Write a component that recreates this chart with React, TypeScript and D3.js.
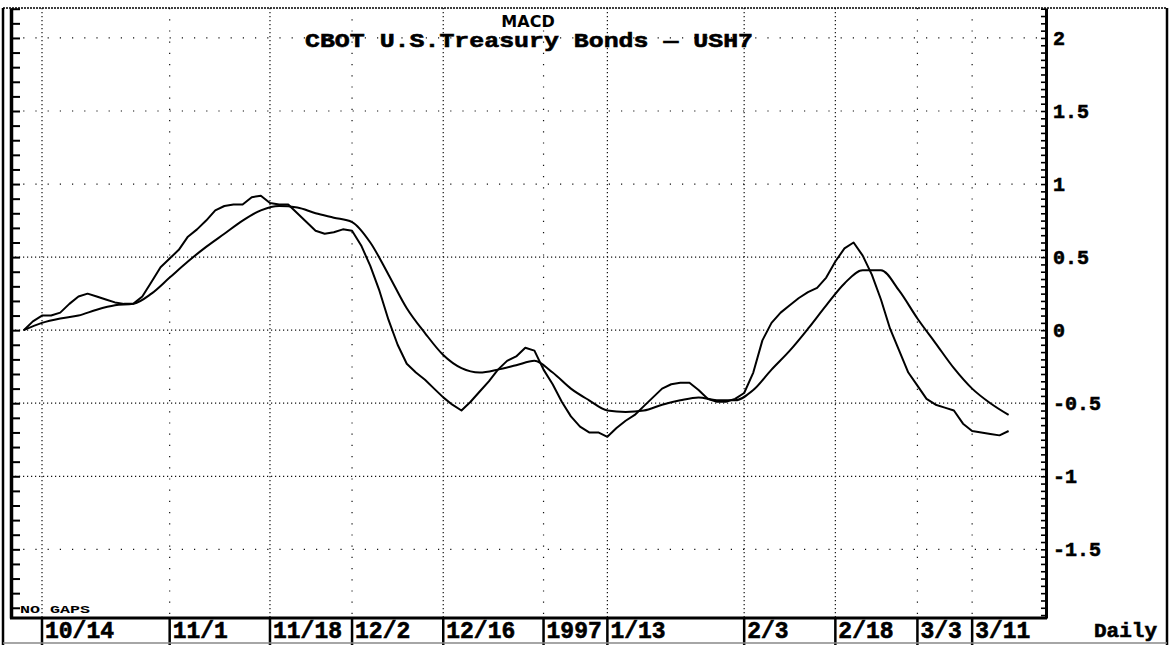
import React, { useRef, useEffect } from 'react';
import * as d3 from 'd3';

const W = 1171;
const H = 645;

// date strip under the plot: label + trading session index (session 0 = 10/10/96)
const dateLabels = ['10/14', '11/1', '11/18', '12/2', '12/16', '1997', '1/13', '2/3', '2/18', '3/3', '3/11'];
const dateSessions = [2, 16, 27, 36, 46, 57, 64, 79, 89, 98, 104];

const yTicks = [2, 1.5, 1, 0.5, 0, -0.5, -1, -1.5];

// MACD line, one value per session
const macd = [
  0.00, 0.06, 0.10, 0.10, 0.12, 0.18, 0.23, 0.25, 0.23, 0.21,
  0.19, 0.18, 0.18, 0.23, 0.33, 0.43, 0.49, 0.55, 0.64, 0.69,
  0.75, 0.82, 0.85, 0.86, 0.86, 0.91, 0.92, 0.87, 0.86, 0.86,
  0.80, 0.74, 0.68, 0.66, 0.67, 0.69, 0.68, 0.58, 0.44, 0.27,
  0.07, -0.10, -0.23, -0.29, -0.34, -0.40, -0.46, -0.51, -0.55, -0.49,
  -0.42, -0.35, -0.27, -0.21, -0.18, -0.12, -0.14, -0.27, -0.37, -0.49,
  -0.59, -0.66, -0.70, -0.70, -0.73, -0.67, -0.62, -0.58, -0.52, -0.46,
  -0.40, -0.37, -0.36, -0.36, -0.41, -0.47, -0.49, -0.49, -0.47, -0.43,
  -0.29, -0.07, 0.05, 0.12, 0.17, 0.22, 0.26, 0.29, 0.36, 0.47,
  0.56, 0.60, 0.51, 0.38, 0.21, 0.01, -0.14, -0.29, -0.38, -0.47,
  -0.51, -0.53, -0.55, -0.64, -0.69, -0.70, -0.71, -0.72, -0.69,
];

// signal line, read every second session
const signalSessions = [
  0, 2, 4, 6, 8, 10, 12, 14, 16, 18, 20, 22, 24, 26, 28, 30, 32, 34, 36, 38,
  40, 42, 44, 46, 48, 50, 52, 54, 56, 58, 60, 62, 64, 66, 68, 70, 72, 74, 76, 78,
  80, 82, 84, 86, 88, 90, 92, 94, 96, 98, 100, 102, 104, 106, 108,
];
const signal = [
  0.00, 0.05, 0.08, 0.10, 0.14, 0.17, 0.18, 0.25, 0.36, 0.47,
  0.57, 0.66, 0.75, 0.82, 0.85, 0.84, 0.80, 0.77, 0.74, 0.60,
  0.38, 0.15, -0.02, -0.17, -0.26, -0.29, -0.27, -0.24, -0.21, -0.29,
  -0.40, -0.48, -0.55, -0.56, -0.55, -0.51, -0.48, -0.46, -0.48, -0.48,
  -0.41, -0.27, -0.14, 0.01, 0.17, 0.32, 0.41, 0.41, 0.27, 0.08,
  -0.09, -0.26, -0.40, -0.50, -0.58,
];

const MONO = '"Liberation Mono", "DejaVu Sans Mono", monospace';

const MacdChart = () => {
  const ref = useRef<SVGSVGElement>(null);

  useEffect(() => {
    document.body.style.margin = '0';
    const svg = d3.select(ref.current);
    svg.selectAll('*').remove();

    const plot = { left: 11, right: 1046, top: 8, bottom: 618 };

    const x = d3.scaleLinear().domain([-1.4, 112.1]).range([plot.left, plot.right]);
    const y = d3.scaleLinear().domain([-1.97, 2.205]).range([plot.bottom, plot.top]);

    svg.append('rect').attr('width', W).attr('height', H).attr('fill', '#fff');

    // heavy bitmap-ish lettering
    const boldText = (sel: any, size: number) => sel
      .attr('fill', '#000')
      .attr('stroke', '#000')
      .attr('stroke-width', 0.6)
      .attr('font-family', MONO)
      .attr('font-weight', 'bold')
      .attr('font-size', size);

    // dotted grid, some lines are much fainter on the original
    const faintDates = ['11/1', '12/2', '1997', '3/3', '3/11'];
    const grid = svg.append('g');
    grid.selectAll('line.h')
      .data(yTicks)
      .join('line')
      .attr('class', 'h')
      .attr('x1', plot.left)
      .attr('x2', plot.right)
      .attr('y1', d => y(d))
      .attr('y2', d => y(d))
      .attr('stroke', '#111')
      .attr('stroke-width', 1.2)
      .attr('stroke-dasharray', d => (Math.abs(d) <= 1 && d !== 1 ? '1.2 2.8' : '1.2 11'));

    grid.selectAll('line.v')
      .data(dateSessions)
      .join('line')
      .attr('class', 'v')
      .attr('x1', d => x(d))
      .attr('x2', d => x(d))
      .attr('y1', plot.top)
      .attr('y2', plot.bottom)
      .attr('stroke', '#111')
      .attr('stroke-width', 1.2)
      .attr('stroke-dasharray', (_, i) => (faintDates.includes(dateLabels[i]) ? '1.2 10' : '1.2 2.8'));

    // left axis: ticks only
    svg.append('g')
      .attr('transform', `translate(${plot.left},0)`)
      .call(d3.axisRight(y).tickValues(d3.range(-1.9, 2.21, 0.1)).tickSize(9).tickSizeOuter(0).tickFormat(() => ''))
      .call(g => g.selectAll('line').attr('stroke', '#000').attr('stroke-width', 2))
      .call(g => g.select('.domain').attr('stroke', '#000').attr('stroke-width', 3.5));

    // right axis: minor ticks inside, labels outside
    svg.append('g')
      .attr('transform', `translate(${plot.right},0)`)
      .call(d3.axisLeft(y).tickValues(d3.range(-1.95, 2.21, 0.05)).tickSize(5).tickSizeOuter(0).tickFormat(() => ''))
      .call(g => g.selectAll('line').attr('stroke', '#000').attr('stroke-width', 1.6))
      .call(g => g.select('.domain').attr('stroke', '#000').attr('stroke-width', 3));

    svg.append('g')
      .attr('transform', `translate(${plot.right},0)`)
      .call(d3.axisRight(y).tickValues(yTicks).tickSize(0).tickPadding(7).tickFormat(d => String(d)))
      .call(g => g.select('.domain').remove())
      .call(g => boldText(g.selectAll('text'), 20));

    // plot bottom edge
    svg.append('line')
      .attr('x1', plot.left - 1).attr('x2', plot.right + 1)
      .attr('y1', plot.bottom).attr('y2', plot.bottom)
      .attr('stroke', '#000').attr('stroke-width', 3);

    // date strip
    const strip = svg.append('g');
    strip.selectAll('line')
      .data(dateSessions)
      .join('line')
      .attr('x1', d => x(d))
      .attr('x2', d => x(d))
      .attr('y1', plot.bottom)
      .attr('y2', H)
      .attr('stroke', '#000')
      .attr('stroke-width', 2.5);
    boldText(strip.selectAll('text')
      .data(dateSessions)
      .join('text')
      .attr('x', d => x(d) + 3)
      .attr('y', 638), 23)
      .text((_, i) => dateLabels[i]);

    boldText(svg.append('text')
      .attr('x', 1157)
      .attr('y', 637)
      .attr('text-anchor', 'end'), 21)
      .text('Daily');

    // outer frame
    svg.append('line')
      .attr('x1', 3).attr('x2', 1167).attr('y1', plot.top).attr('y2', plot.top)
      .attr('stroke', '#000').attr('stroke-width', 1.6).attr('stroke-dasharray', '2 1');
    svg.append('line')
      .attr('x1', 3).attr('x2', 3).attr('y1', plot.top).attr('y2', H)
      .attr('stroke', '#000').attr('stroke-width', 2.5);
    svg.append('line')
      .attr('x1', 1167).attr('x2', 1167).attr('y1', plot.top).attr('y2', H)
      .attr('stroke', '#000').attr('stroke-width', 2.5);
    svg.append('line')
      .attr('x1', 3).attr('x2', 1167).attr('y1', 643).attr('y2', 643)
      .attr('stroke', '#888').attr('stroke-width', 1.5);

    // the two lines
    const macdLine = d3.line<number>()
      .x((_, i) => x(i))
      .y(d => y(d));
    const signalLine = d3.line<number>()
      .x((_, i) => x(signalSessions[i]))
      .y(d => y(d))
      .curve(d3.curveMonotoneX);

    svg.append('path')
      .datum(signal)
      .attr('fill', 'none')
      .attr('stroke', '#000')
      .attr('stroke-width', 2)
      .attr('d', signalLine);

    svg.append('path')
      .datum(macd)
      .attr('fill', 'none')
      .attr('stroke', '#000')
      .attr('stroke-width', 2)
      .attr('stroke-linejoin', 'round')
      .attr('d', macdLine);

    // titles
    svg.append('text')
      .attr('x', 528)
      .attr('y', 27)
      .attr('text-anchor', 'middle')
      .attr('font-family', '"DejaVu Sans", sans-serif')
      .attr('font-weight', 'bold')
      .attr('font-size', 16)
      .text('MACD');

    boldText(svg.append('text')
      .attr('x', 305)
      .attr('y', 47)
      .attr('textLength', 448)
      .attr('lengthAdjust', 'spacingAndGlyphs'), 21)
      .text('CBOT U.S.Treasury Bonds \u2014 USH7');

    svg.append('text')
      .attr('x', 20)
      .attr('y', 613)
      .attr('font-family', MONO)
      .attr('font-weight', 'bold')
      .attr('font-size', 10)
      .attr('textLength', 70)
      .attr('lengthAdjust', 'spacingAndGlyphs')
      .text('NO GAPS');
  }, []);

  return <svg ref={ref} width={W} height={H} style={{ display: 'block' }} />;
};

export default function App() {
  return <MacdChart />;
}
